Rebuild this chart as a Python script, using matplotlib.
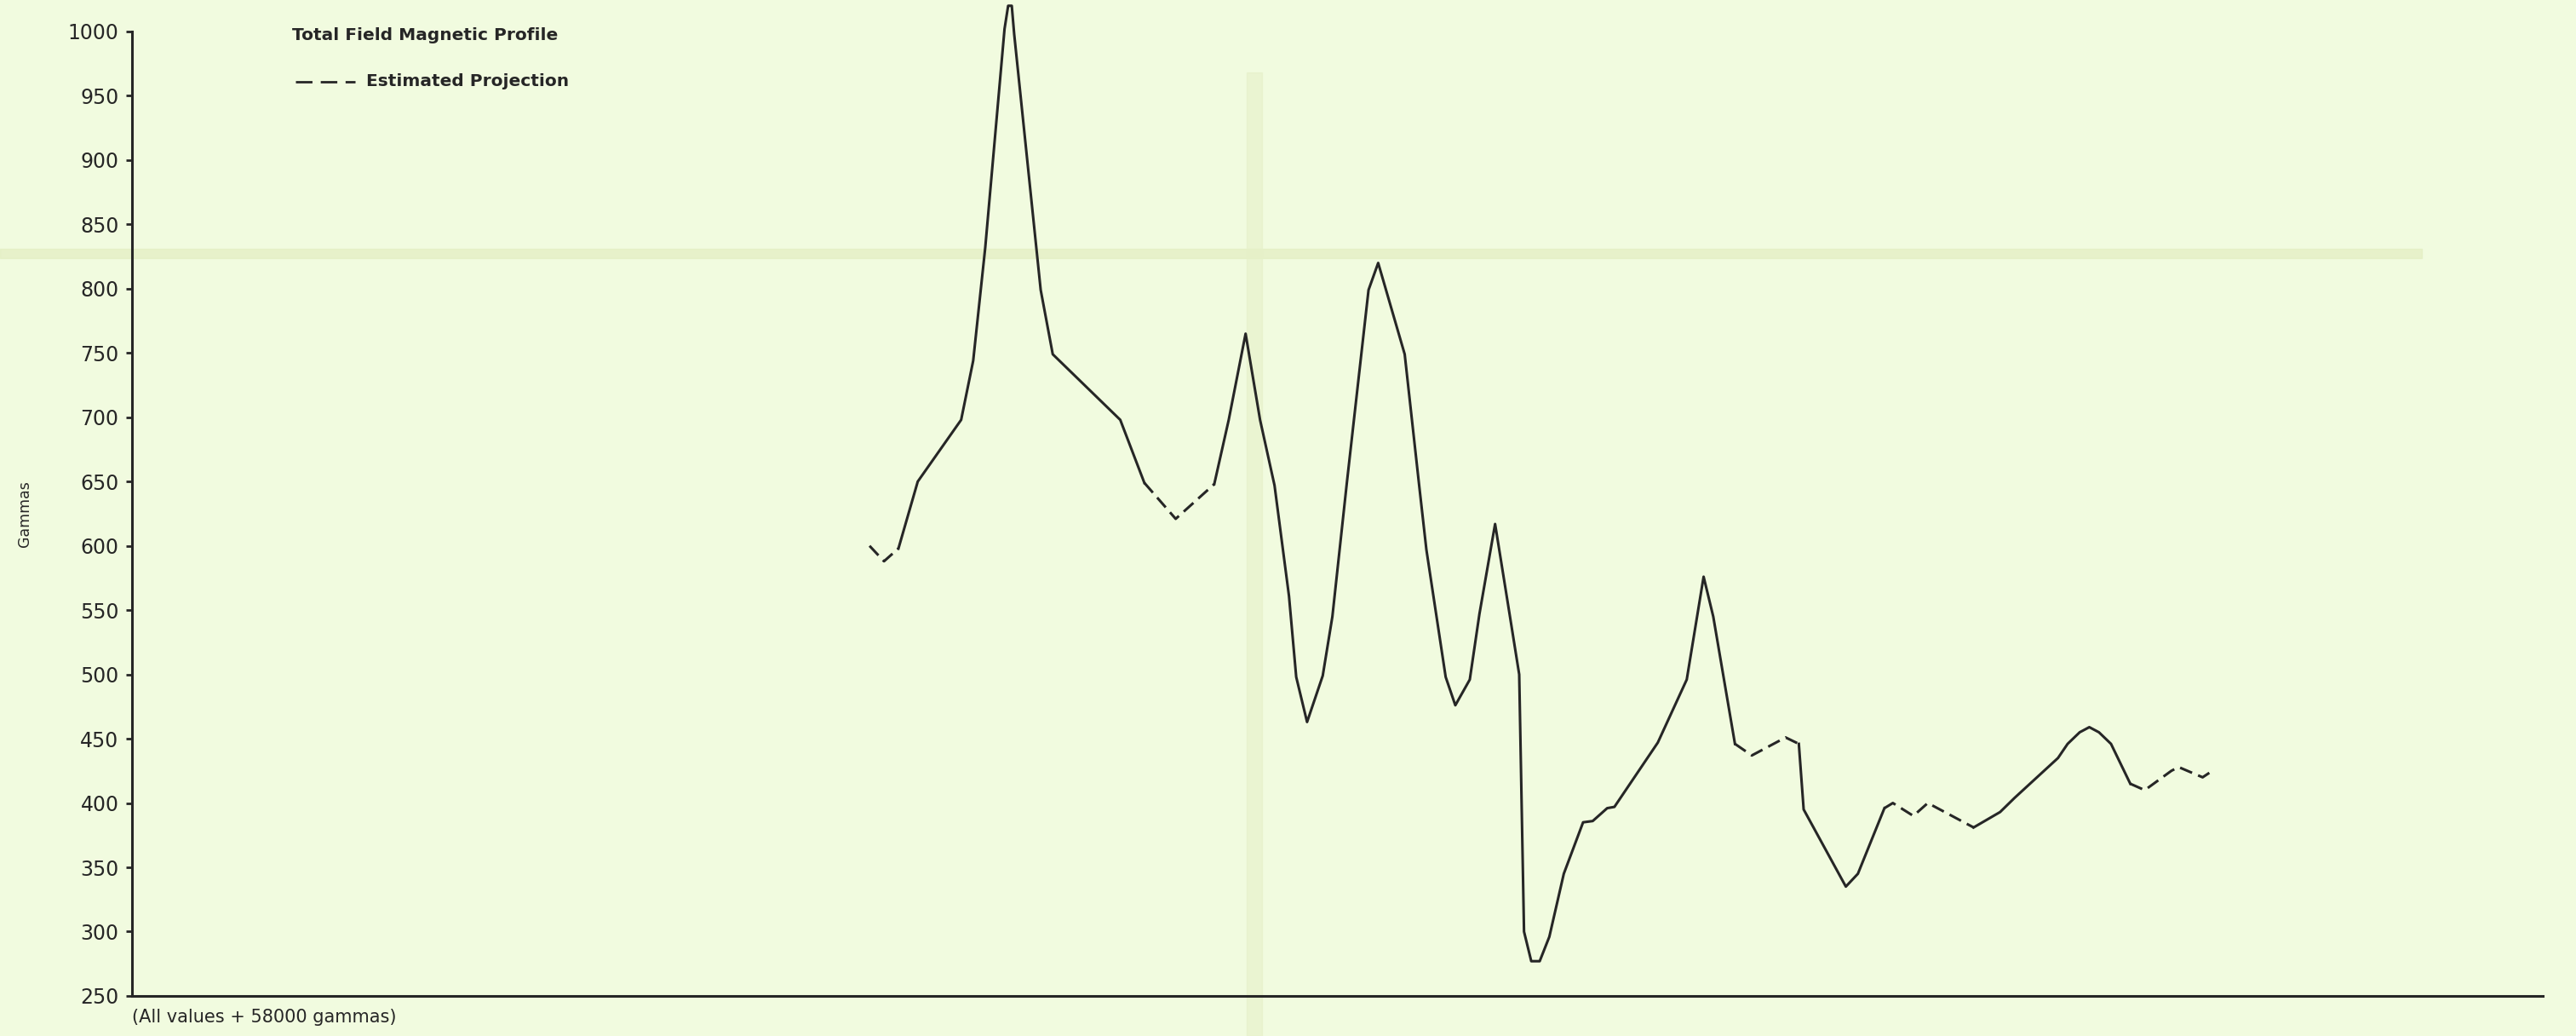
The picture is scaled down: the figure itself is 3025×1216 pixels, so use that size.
import matplotlib
matplotlib.use('Agg')
import matplotlib.pyplot as plt
from matplotlib.lines import Line2D
from matplotlib.patches import Rectangle

# 측선 거리(임의 단위, 0~1000) 와 전자기장 값 (gammas, +58000)
distance = [306, 312, 318, 326, 344, 349, 354, 362, 363.5, 365, 366, 377, 382,
            410, 420, 433, 449, 455, 462, 468, 474, 480, 483, 487.5, 494, 498,
            504, 513, 517, 528, 534, 537, 545, 549, 555, 559, 565.5, 571.5,
            575.5, 577.5, 580.5, 584, 588, 594, 602, 606, 612, 615, 633, 645,
            652, 656, 665, 672, 686, 691.5, 693.5, 711, 716, 727, 730.5, 739,
            745, 749, 764, 775, 781, 799, 803, 808, 812, 816, 821, 829, 835,
            846, 849, 859, 863]
gammas = [600, 588, 598, 650, 698, 744, 832, 1002, 1020, 1020, 998, 799, 749,
          698, 649, 621, 648, 698, 765, 698, 647, 561, 498, 463, 499, 545,
          649, 799, 820, 749, 647, 597, 498, 476, 496, 547, 617, 547,
          500, 300, 277, 277, 296, 345, 385, 386, 396, 397, 447, 496,
          576, 545, 446, 437, 451, 446, 395, 335, 345, 396, 400, 390,
          400, 396, 381, 393, 404, 435, 446, 455, 459, 455, 446, 415, 410,
          425, 428, 420, 425]

# 추정 구간 (Estimated Projection)
estimated = [(306, 318), (420, 449), (665, 691.5), (727, 764), (829, 863)]

y_ticks = list(range(250, 1001, 50))

bg = '#F1FBDF'
ink = '#262626'

fig = plt.figure(figsize=(30.25, 12.16), dpi=100, facecolor=bg)

# 종이 접힌 자국 (옅게)
fig.patches.append(Rectangle((0, 0.751), 0.94, 0.009, transform=fig.transFigure,
                             color='#E3EEC2', alpha=0.7, zorder=-5))
fig.patches.append(Rectangle((0.484, 0.0), 0.006, 0.93, transform=fig.transFigure,
                             color='#E6F0C8', alpha=0.6, zorder=-5))

ax = fig.add_axes([0.0512, 0.0387, 0.9358, 0.9309])
ax.set_facecolor('none')
ax.set_zorder(2)


def is_est(a, b):
    return any(lo <= a and b <= hi for lo, hi in estimated)


# 구간별로 실선/점선 나눠 그리기
i = 0
n = len(distance)
while i < n - 1:
    est = is_est(distance[i], distance[i + 1])
    j = i + 1
    while j < n - 1 and is_est(distance[j], distance[j + 1]) == est:
        j += 1
    seg_x = distance[i:j + 1]
    seg_y = gammas[i:j + 1]
    if est:
        ax.plot(seg_x, seg_y, color=ink, lw=2.2, dashes=(5, 2.5), clip_on=False)
    else:
        ax.plot(seg_x, seg_y, color=ink, lw=2.2, clip_on=False)
    i = j

ax.set_xlim(0, 1000)
ax.set_ylim(250, 1000)
ax.set_yticks(y_ticks)
ax.set_xticks([])
ax.tick_params(axis='y', direction='out', length=5, width=2, pad=6,
               labelsize=17, colors=ink)
for s in ['top', 'right']:
    ax.spines[s].set_visible(False)
for s in ['left', 'bottom']:
    ax.spines[s].set_linewidth(2.2)
    ax.spines[s].set_color(ink)

ax.set_ylabel('Gammas', fontsize=12.5, color=ink, labelpad=30)

fig.text(0.0512, 0.0181, '(All values + 58000 gammas)', fontsize=15, color=ink,
         va='center', ha='left')
fig.text(0.1134, 0.9655, 'Total Field Magnetic Profile', fontsize=14.5, color=ink,
         va='center', ha='left', fontweight='semibold')
fig.lines.append(Line2D([0.1147, 0.1380], [0.9211, 0.9211], transform=fig.transFigure,
                        color=ink, lw=2, dashes=(7, 3.5)))
fig.text(0.1422, 0.9211, 'Estimated Projection', fontsize=14.5, color=ink,
         va='center', ha='left', fontweight='semibold')

plt.savefig('out.png', dpi=100, facecolor=bg)
